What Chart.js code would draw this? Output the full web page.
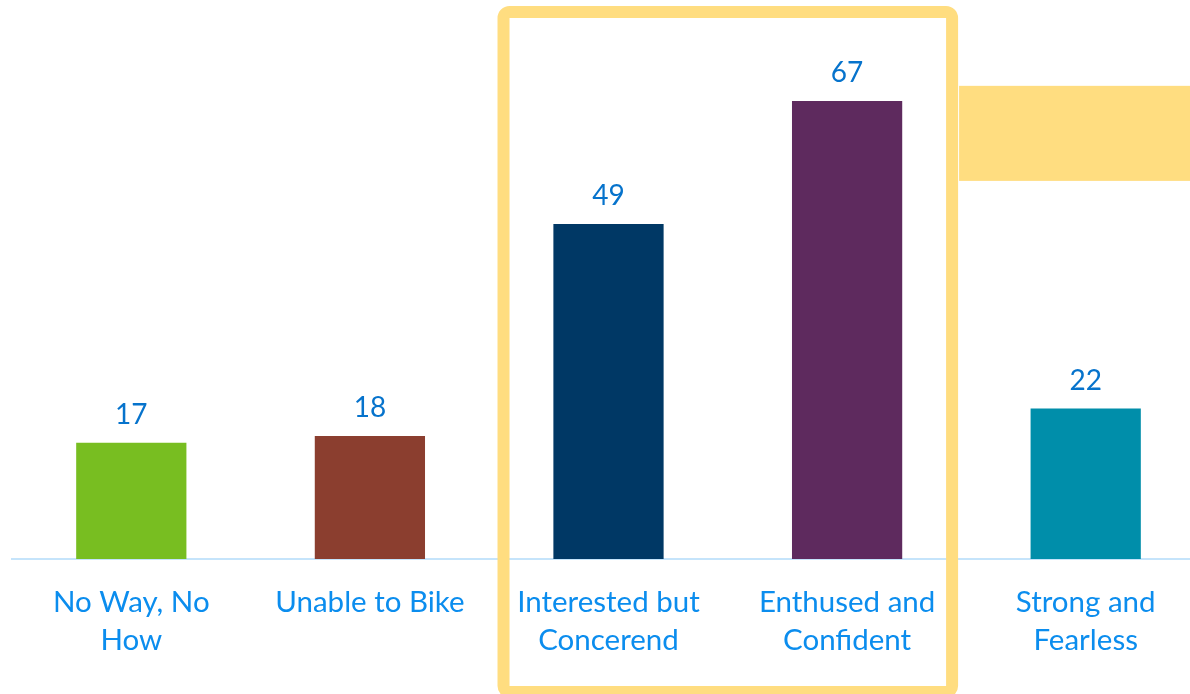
<!DOCTYPE html>
<html>
<head>
<meta charset="utf-8">
<script src="https://cdn.jsdelivr.net/npm/chart.js@4"></script>
<style>
  html, body { margin: 0; padding: 0; background: #ffffff; overflow: hidden; }
  #wrap { width: 1205px; height: 694px; position: relative; }
</style>
</head>
<body>
<div id="wrap"><canvas id="c"></canvas></div>
<script>
// Cyclist types and their counts
const categories = [
  ["No Way, No", "How"],
  ["Unable to Bike"],
  ["Interested but", "Concerend"],
  ["Enthused and", "Confident"],
  ["Strong and", "Fearless"]
];
const counts = [17, 18, 49, 67, 22];
const barColors = ["#78BE21", "#8B3E2F", "#003865", "#5E2A5E", "#008EAA"];

const FONT = "Lato, 'Open Sans', sans-serif";
const HIGHLIGHT = "#FFDD80";

// Value labels above each bar
const valueLabels = {
  id: "valueLabels",
  afterDatasetsDraw(chart) {
    const ctx = chart.ctx;
    const meta = chart.getDatasetMeta(0);
    ctx.save();
    ctx.font = "28px " + FONT;
    ctx.fillStyle = "#0673CC";
    ctx.textAlign = "center";
    ctx.textBaseline = "middle";
    meta.data.forEach((bar, i) => {
      ctx.fillText(String(counts[i]), bar.x, bar.y - 28);
    });
    ctx.restore();
  }
};

// Highlight frame around the middle pair and the callout block to its right
const highlight = {
  id: "highlight",
  afterDraw(chart) {
    const ctx = chart.ctx;
    const x = chart.scales.x, y = chart.scales.y;
    const left = x.getPixelForValue(1.56);
    const right = x.getPixelForValue(3.44);
    const top = 12, bottom = 692;
    ctx.save();
    ctx.strokeStyle = HIGHLIGHT;
    ctx.lineWidth = 12;
    ctx.beginPath();
    ctx.roundRect(left, top, right - left, bottom - top, 6);
    ctx.stroke();
    // callout block
    const bx = right + 7;
    const by1 = y.getPixelForValue(69.2);
    const by2 = y.getPixelForValue(55.3);
    ctx.fillStyle = HIGHLIGHT;
    ctx.fillRect(bx, by1, chart.width - bx, by2 - by1);
    ctx.restore();
  }
};

new Chart(document.getElementById("c"), {
  type: "bar",
  data: {
    labels: categories,
    datasets: [{
      data: counts,
      backgroundColor: barColors,
      borderWidth: 0,
      categoryPercentage: 1,
      barPercentage: 0.462
    }]
  },
  options: {
    responsive: true,
    maintainAspectRatio: false,
    animation: false,
    layout: { padding: { top: 12, left: 12, right: 0, bottom: 0 } },
    plugins: { legend: { display: false }, tooltip: { enabled: false } },
    scales: {
      x: {
        grid: { display: false, drawTicks: false },
        border: { display: true, color: "#C5E4FB", width: 2 },
        ticks: {
          color: "#0B8DEE",
          font: { family: FONT, size: 29.5, lineHeight: 1.29 },
          padding: 24,
          maxRotation: 0,
          autoSkip: false
        },
        afterFit(scale) { scale.height = 135; }
      },
      y: {
        display: false,
        min: 0,
        max: 80
      }
    }
  },
  plugins: [valueLabels, highlight]
});
</script>
</body>
</html>
